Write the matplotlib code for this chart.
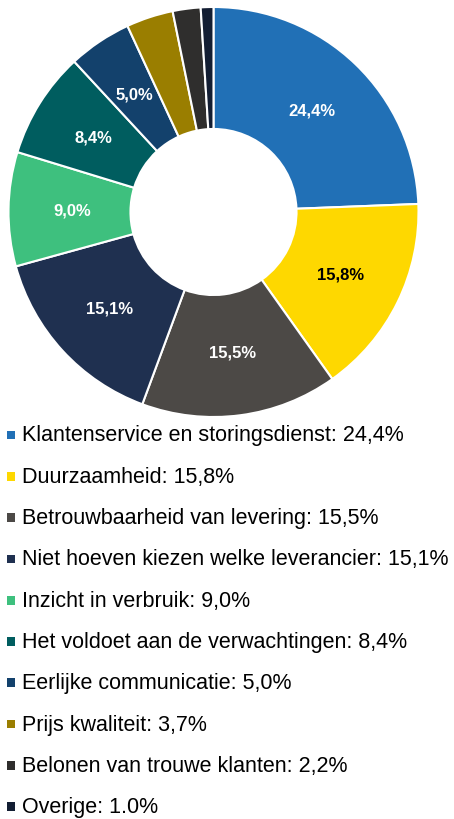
import matplotlib
matplotlib.use('Agg')
import matplotlib.pyplot as plt
import numpy as np

plt.rcParams['font.family'] = ['Liberation Sans', 'DejaVu Sans']

# data
categories = ['Klantenservice en storingsdienst', 'Duurzaamheid',
              'Betrouwbaarheid van levering', 'Niet hoeven kiezen welke leverancier',
              'Inzicht in verbruik', 'Het voldoet aan de verwachtingen',
              'Eerlijke communicatie', 'Prijs kwaliteit',
              'Belonen van trouwe klanten', 'Overige']
values = [24.4, 15.8, 15.5, 15.1, 9.0, 8.4, 5.0, 3.7, 2.2, 1.0]
slice_labels = ['24,4%', '15,8%', '15,5%', '15,1%', '9,0%', '8,4%', '5,0%', '', '', '']
legend_values = ['24,4%', '15,8%', '15,5%', '15,1%', '9,0%', '8,4%', '5,0%', '3,7%', '2,2%', '1.0%']
colors = ['#2170b6', '#fed800', '#4c4946', '#1f3050', '#3ec07e', '#005d5f',
          '#13416c', '#9a7e00', '#2f2e2d', '#131e33']
label_colors = ['white', 'black', 'white', 'white', 'white', 'white', 'white', 'white', 'white', 'white']

W, H = 454, 820
fig = plt.figure(figsize=(W / 100, H / 100), dpi=100)

# donut
cx, cy, R = 213.5, 213, 205
ax = fig.add_axes([(cx - R) / W, (H - cy - R) / H, 2 * R / W, 2 * R / H])
wedges, texts = ax.pie(values, colors=colors, startangle=90, counterclock=False,
                       labels=slice_labels, labeldistance=0.69, radius=1,
                       wedgeprops=dict(width=0.595, edgecolor='white', linewidth=1.5))
for t, c in zip(texts, label_colors):
    t.set_ha('center')
    t.set_va('center')
    t.set_color(c)
    t.set_fontsize(12)
    t.set_fontweight('bold')
ax.set_xlim(-1, 1)
ax.set_ylim(-1, 1)
ax.set_aspect('equal')
ax.axis('off')

# legend
lax = fig.add_axes([0, 0, 1, 1])
lax.set_xlim(0, W)
lax.set_ylim(H, 0)
lax.axis('off')
rows = 436 + 41.3 * np.arange(len(categories))
lax.scatter(np.full(len(rows), 11), rows, marker='s', s=40, c=colors, linewidths=0)
for y, name, v in zip(rows, categories, legend_values):
    lax.text(22, y, f'{name}: {v}', fontsize=15.5, va='center', ha='left', color='black')

fig.savefig('out.png', dpi=100)
